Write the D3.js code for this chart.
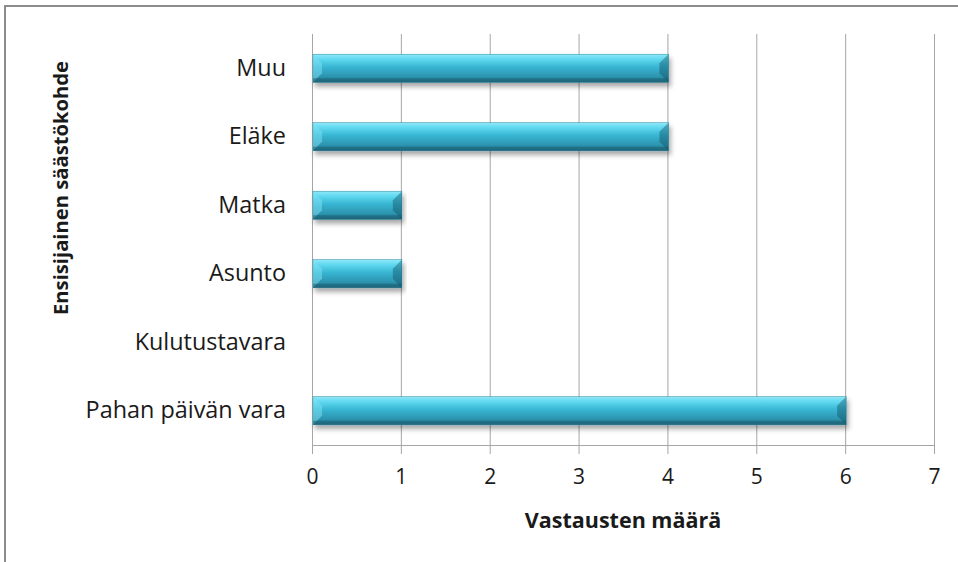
<!DOCTYPE html>
<html>
<head>
<meta charset="utf-8">
<script src="https://cdn.jsdelivr.net/npm/d3@7"></script>
<style>
  body { margin: 0; background: #fff; }
  text { font-family: "Open Sans", "Noto Sans", sans-serif; fill: #1a1a1a; }
</style>
</head>
<body>
<svg id="chart" width="958" height="562"></svg>
<script>
var categories = ['Muu', 'Eläke', 'Matka', 'Asunto', 'Kulutustavara', 'Pahan päivän vara'];
var answers = [4, 4, 1, 1, 0, 6];
var xTicks = [0, 1, 2, 3, 4, 5, 6, 7];
var xTitle = 'Vastausten määrä';
var yTitle = 'Ensisijainen säästökohde';

var svg = d3.select('#chart');
var margin = { left: 312, right: 24, top: 34, bottom: 117 };
var width = 958 - margin.left - margin.right;
var height = 562 - margin.top - margin.bottom;

// outer frame, only top and left edges are visible in the picture
svg.append('rect').attr('x', 5).attr('y', 6).attr('width', 1200).attr('height', 900)
  .attr('fill', 'none').attr('stroke', '#8c8c8c').attr('stroke-width', 2);

var defs = svg.append('defs');
var grad = defs.append('linearGradient').attr('id', 'barGrad')
  .attr('x1', 0).attr('y1', 0).attr('x2', 0).attr('y2', 1);
[['0%', '#8fe8f8'], ['18%', '#5fd8f0'], ['45%', '#38b6d3'], ['80%', '#2c94af'], ['100%', '#206c82']]
  .forEach(function (s) { grad.append('stop').attr('offset', s[0]).attr('stop-color', s[1]); });

var shadow = defs.append('filter').attr('id', 'shadow')
  .attr('x', '-5%').attr('y', '-30%').attr('width', '110%').attr('height', '180%');
shadow.append('feDropShadow').attr('dx', 2).attr('dy', 4).attr('stdDeviation', 2.5)
  .attr('flood-color', '#000').attr('flood-opacity', 0.35);

var g = svg.append('g').attr('transform', 'translate(' + margin.left + ',' + margin.top + ')');

var x = d3.scaleLinear().domain([0, 7]).range([0, width]);
var y = d3.scaleBand().domain(categories).range([0, height]).paddingInner(0.59).paddingOuter(0.295);

// vertical gridlines
g.selectAll('.grid').data(xTicks).enter().append('line')
  .attr('class', 'grid')
  .attr('x1', function (d) { return x(d) + 0.5; })
  .attr('x2', function (d) { return x(d) + 0.5; })
  .attr('y1', 0).attr('y2', height)
  .attr('stroke', '#a6a6a6').attr('stroke-width', 1);

// x axis
var xAxis = g.append('g').attr('transform', 'translate(0,' + height + ')')
  .call(d3.axisBottom(x).tickValues(xTicks).tickFormat(d3.format('d')).tickSize(9).tickPadding(15).tickSizeOuter(0));
xAxis.select('.domain').attr('stroke', '#a6a6a6');
xAxis.selectAll('.tick line').attr('stroke', '#a6a6a6');
xAxis.selectAll('text').attr('font-size', 21).attr('font-family', '"Open Sans", sans-serif').attr('fill', '#1a1a1a');

// y axis labels
var yAxis = g.append('g')
  .call(d3.axisLeft(y).tickSize(0).tickPadding(26));
yAxis.select('.domain').remove();
yAxis.selectAll('text').attr('font-size', 23.4).attr('font-family', '"Open Sans", sans-serif').attr('fill', '#1a1a1a');

// bars
var bars = g.selectAll('.bar').data(categories.map(function (c, i) { return { cat: c, v: answers[i] }; }))
  .enter().append('g').attr('class', 'bar')
  .filter(function (d) { return d.v > 0; });

bars.append('rect')
  .attr('x', x(0) + 1)
  .attr('y', function (d) { return y(d.cat); })
  .attr('width', function (d) { return x(d.v) - x(0); })
  .attr('height', y.bandwidth())
  .attr('fill', 'url(#barGrad)')
  .attr('stroke', '#2a8aa3').attr('stroke-width', 0.5)
  .attr('filter', 'url(#shadow)');

// bevelled ends
bars.append('path')
  .attr('d', function (d) {
    var x0 = x(0) + 1, y0 = y(d.cat), h = y.bandwidth(), b = 9;
    return 'M' + x0 + ',' + y0 + 'L' + (x0 + b) + ',' + (y0 + b) + 'L' + (x0 + b) + ',' + (y0 + h - b) +
      'L' + x0 + ',' + (y0 + h) + 'Z';
  })
  .attr('fill', '#7fe2f5').attr('opacity', 0.5);
bars.append('path')
  .attr('d', function (d) {
    var x1 = x(d.v) + 1, y0 = y(d.cat), h = y.bandwidth(), b = 9;
    return 'M' + x1 + ',' + y0 + 'L' + (x1 - b) + ',' + (y0 + b) + 'L' + (x1 - b) + ',' + (y0 + h - b) +
      'L' + x1 + ',' + (y0 + h) + 'Z';
  })
  .attr('fill', '#10485a').attr('opacity', 0.4);
bars.append('rect')
  .attr('x', x(0) + 1)
  .attr('y', function (d) { return y(d.cat) + y.bandwidth() - 4; })
  .attr('width', function (d) { return x(d.v) - x(0); })
  .attr('height', 4)
  .attr('fill', '#1b5d70').attr('opacity', 0.5);

// axis titles
svg.append('text')
  .attr('x', margin.left + x(3.5))
  .attr('y', 528)
  .attr('text-anchor', 'middle')
  .attr('font-size', 21.5).attr('font-weight', 'bold')
  .text(xTitle);

svg.append('text')
  .attr('transform', 'translate(68,' + 188 + ') rotate(-90)')
  .attr('text-anchor', 'middle')
  .attr('font-size', 20.2).attr('font-weight', 'bold')
  .text(yTitle);
</script>
</body>
</html>
